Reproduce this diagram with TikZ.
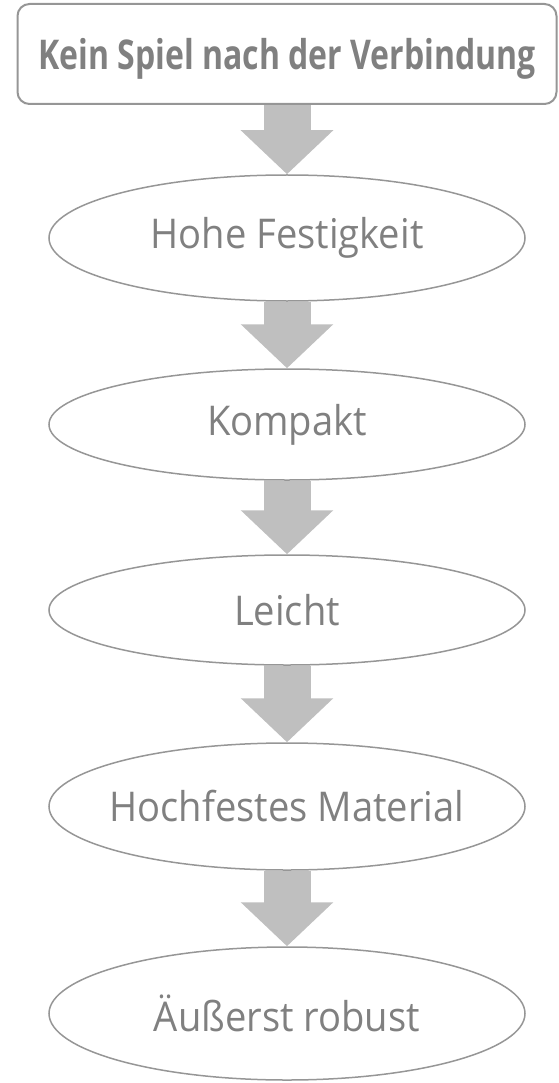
\documentclass[tikz,border=0pt]{standalone}
\usepackage{fontspec}
\setmainfont{Open Sans}
\newfontfamily\boxfont[FakeStretch=0.78]{Open Sans}
\newfontfamily\ovalfont[FakeStretch=0.93]{Open Sans}
\usetikzlibrary{shapes.geometric,arrows.meta}
\definecolor{txtgray}{RGB}{128,128,128}
\definecolor{linegray}{RGB}{150,150,150}
\definecolor{arrowgray}{RGB}{191,191,191}
\begin{document}
\begin{tikzpicture}[x=1pt,y=-1pt,
    oval/.style={ellipse,draw=linegray,line width=1.5pt,minimum width=476pt,
      inner ysep=0pt,inner xsep=-20pt,text=txtgray,
      font=\ovalfont\fontsize{41}{48}\selectfont},
    topbox/.style={draw=linegray,line width=2pt,rounded corners=12pt,
      minimum width=539pt,minimum height=100pt,text=txtgray,text depth=0pt,
      font=\boxfont\bfseries\fontsize{41}{48}\selectfont},
    flow/.style={draw=arrowgray,line width=47pt,
      -{Triangle[width=90pt,length=44pt,fill=arrowgray]}}]
    \useasboundingbox (0,0) rectangle (558,1083);
    % Kasten oben
    \node[topbox] (verb) at (287,54) {Kein Spiel nach der Verbindung};
    % Ellipsen
    \node[oval,minimum height=126pt] (fest) at (287,238) {Hohe Festigkeit};
    \node[oval,minimum height=111pt] (komp) at (287,424.5) {Kompakt};
    \node[oval,minimum height=110pt] (leicht) at (287,610) {Leicht};
    \node[oval,minimum height=127pt] (mat) at (287,806.5) {Hochfestes Material};
    \node[oval,minimum height=133pt] (rob) at (287,1013.5) {Äußerst robust};
    % Pfeile
    \draw[flow] (verb.south) -- (fest.north);
    \draw[flow] (fest.south) -- (komp.north);
    \draw[flow] (komp.south) -- (leicht.north);
    \draw[flow] (leicht.south) -- (mat.north);
    \draw[flow] (mat.south) -- (rob.north);
\end{tikzpicture}
\end{document}
